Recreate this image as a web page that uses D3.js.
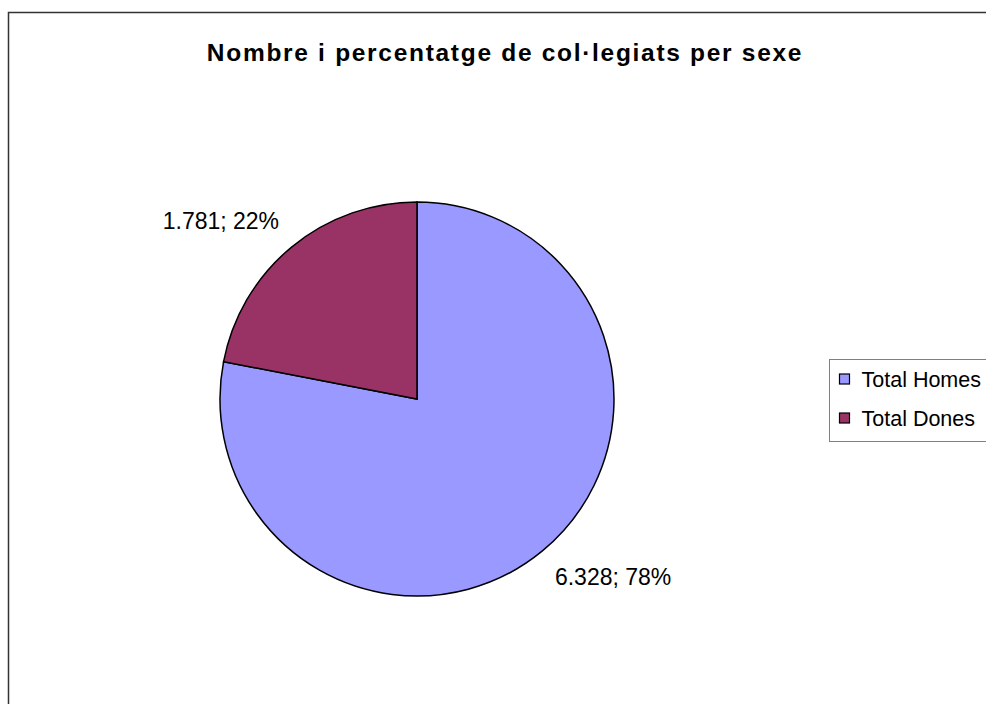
<!DOCTYPE html>
<html>
<head>
<meta charset="utf-8">
<script src="https://cdn.jsdelivr.net/npm/d3@7"></script>
<style>
  body { margin: 0; background: #fff; }
  text { font-family: "Liberation Sans", Arial, sans-serif; }
</style>
</head>
<body>
<script>
// data
var categories = ["Total Homes", "Total Dones"];
var values = [6328, 1781];
var labels = ["6.328; 78%", "1.781; 22%"];
var colors = ["#9999FF", "#993366"];

var width = 986, height = 704;
var svg = d3.select("body").append("svg")
    .attr("width", width)
    .attr("height", height);

// outer chart frame, runs off the right and bottom edge
svg.append("rect")
    .attr("x", 8.5).attr("y", 12.5)
    .attr("width", 1000).attr("height", 720)
    .style("fill", "none")
    .style("stroke", "#333")
    .style("stroke-width", 1.5);

svg.append("text")
    .attr("x", 505).attr("y", 61)
    .style("text-anchor", "middle")
    .style("font-weight", "bold")
    .style("font-size", "24.5px")
    .style("letter-spacing", "1.7px")
    .text("Nombre i percentatge de col·legiats per sexe");

var cx = 417, cy = 399, r = 197;

var pie = d3.pie().sort(null).value(function (d) { return d; });
var arcs = pie(values);
var arc = d3.arc().innerRadius(0).outerRadius(r);

var g = svg.append("g").attr("transform", "translate(" + cx + "," + cy + ")");

g.selectAll("path")
    .data(arcs)
    .enter().append("path")
    .attr("d", arc)
    .style("fill", function (d, i) { return colors[i]; })
    .style("stroke", "#000")
    .style("stroke-width", 1.5);

// labels sit outside the pie, anchored away from it
function mid(d) { return (d.startAngle + d.endAngle) / 2; }
g.selectAll("text.lbl")
    .data(arcs)
    .enter().append("text")
    .attr("class", "lbl")
    .attr("x", function (d) { return Math.sin(mid(d)) * r * 1.10; })
    .attr("y", function (d) { return -Math.cos(mid(d)) * r * 1.17; })
    .attr("dy", "0.35em")
    .style("text-anchor", function (d) { return Math.sin(mid(d)) < 0 ? "end" : "start"; })
    .style("font-size", "23px")
    .text(function (d, i) { return labels[i]; });

// legend
var legend = svg.append("g").attr("transform", "translate(829.5,359.5)");
legend.append("rect")
    .attr("width", 200).attr("height", 82)
    .style("fill", "#fff")
    .style("stroke", "#808080")
    .style("stroke-width", 1);

var rows = legend.selectAll("g.row")
    .data(categories)
    .enter().append("g")
    .attr("class", "row")
    .attr("transform", function (d, i) { return "translate(0," + (20 + i * 39) + ")"; });

rows.append("rect")
    .attr("x", 10).attr("y", -5.5)
    .attr("width", 10).attr("height", 10)
    .style("fill", function (d, i) { return colors[i]; })
    .style("stroke", "#000")
    .style("stroke-width", 1.2);

rows.append("text")
    .attr("x", 32).attr("y", 0)
    .attr("dy", "0.35em")
    .style("font-size", "21.5px")
    .text(function (d) { return d; });
</script>
</body>
</html>
